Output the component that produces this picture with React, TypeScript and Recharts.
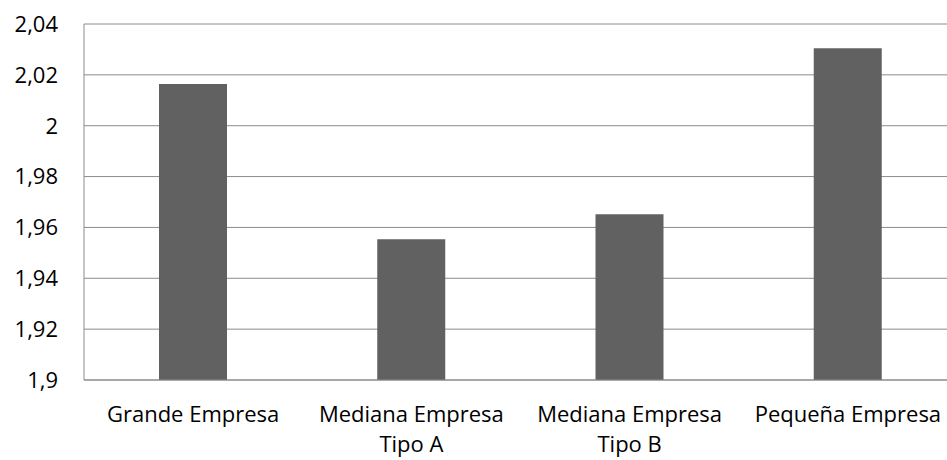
import React from "react";
import { BarChart, Bar, XAxis, YAxis, CartesianGrid } from "recharts";

const categories = [
  "Grande Empresa",
  "Mediana Empresa\nTipo A",
  "Mediana Empresa\nTipo B",
  "Pequeña Empresa",
];
const values = [2.0164, 1.9554, 1.9652, 2.0305];
const yTicks = [1.9, 1.92, 1.94, 1.96, 1.98, 2.0, 2.02, 2.04];

const data = categories.map((c, i) => ({ name: c, value: values[i] }));

const FONT = "'Open Sans', 'Noto Sans', sans-serif";
const GRID = "#8c8c8c";

const fmt = (v: number) => String(Number(v.toFixed(2))).replace(".", ",");

const XTick = (props: any) => {
  const { x, y, payload } = props;
  const lines = String(payload.value).split("\n");
  return (
    <text
      x={x}
      y={y}
      textAnchor="middle"
      fontFamily={FONT}
      fontSize={22}
      fill="#000"
    >
      {lines.map((l, i) => (
        <tspan key={i} x={x} dy={i === 0 ? 42 : 30}>
          {l}
        </tspan>
      ))}
    </text>
  );
};

export default function App() {
  return (
    <div
      style={{
        position: "absolute",
        left: 0,
        top: 0,
        width: 947,
        height: 460,
        overflow: "hidden",
        background: "#fff",
      }}
    >
      <BarChart
        width={957}
        height={460}
        data={data}
        margin={{ top: 24, right: 0, left: 0, bottom: 0 }}
      >
        <CartesianGrid vertical={false} stroke={GRID} strokeWidth={1} />
        <XAxis
          dataKey="name"
          height={80}
          tickLine={false}
          tickSize={0}
          tickMargin={0}
          axisLine={{ stroke: GRID }}
          tick={<XTick />}
          interval={0}
        />
        <YAxis
          width={84}
          domain={[1.9, 2.04]}
          ticks={yTicks}
          tickFormatter={fmt}
          tickLine={false}
          tickSize={0}
          tickMargin={26}
          axisLine={{ stroke: GRID }}
          tick={{ fontFamily: FONT, fontSize: 22, fill: "#000" }}
          allowDataOverflow
        />
        <Bar
          dataKey="value"
          fill="#616161"
          barSize={68}
          isAnimationActive={false}
        />
      </BarChart>
    </div>
  );
}
